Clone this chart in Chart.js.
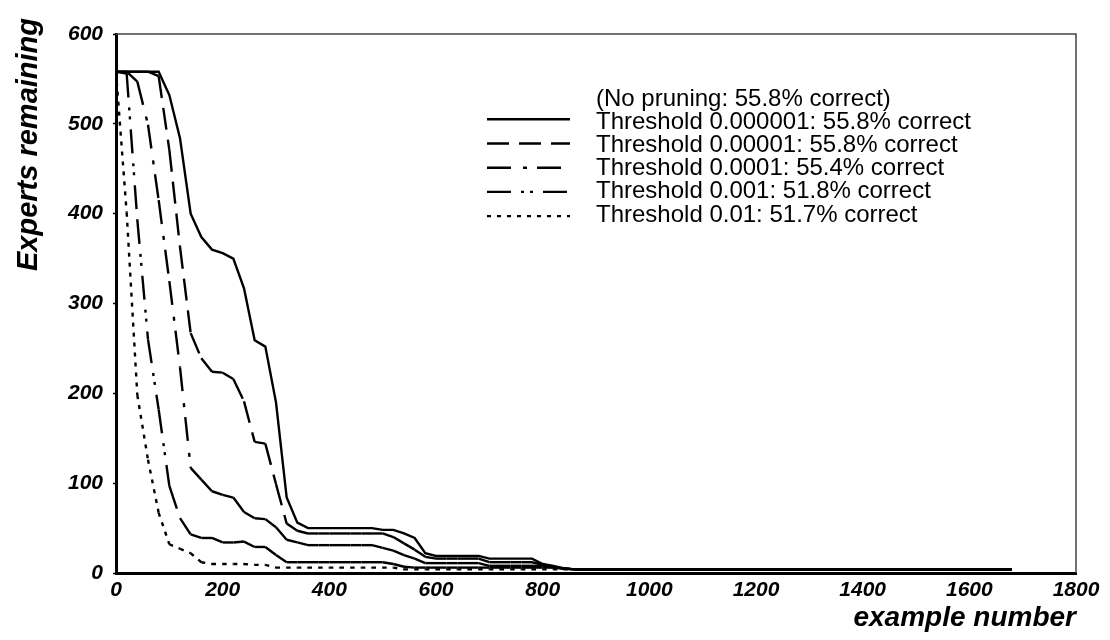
<!DOCTYPE html>
<html>
<head>
<meta charset="utf-8">
<script src="https://cdn.jsdelivr.net/npm/chart.js@4.4.1/dist/chart.umd.min.js"></script>
<style>
  html, body { margin: 0; padding: 0; background: #fff; }
  #wrap { width: 1110px; height: 640px; }
</style>
</head>
<body>
<div id="wrap"><canvas id="experts" width="1110" height="640"></canvas></div>
<script>
// example number, one reading every 20 examples
const examples = [
  0, 20, 40, 60, 80, 100, 120, 140, 160, 180,
  200, 220, 240, 260, 280, 300, 320, 340, 360, 380,
  400, 420, 440, 460, 480, 500, 520, 540, 560, 580,
  600, 620, 640, 660, 680, 700, 720, 740, 760, 780,
  800, 820, 840, 860, 880, 900, 920, 940, 960, 980,
  1000, 1020, 1040, 1060, 1080, 1100, 1120, 1140, 1160, 1180,
  1200, 1220, 1240, 1260, 1280, 1300, 1320, 1340, 1360, 1380,
  1400, 1420, 1440, 1460, 1480, 1500, 1520, 1540, 1560, 1580,
  1600, 1620, 1640, 1660, 1680
];

// experts remaining, per threshold
const thr000001 = [
  558, 558, 558, 558, 558, 532, 484, 400, 374, 360,
  356, 350, 317, 259, 252, 190, 84, 56, 50, 50,
  50, 50, 50, 50, 50, 48, 48, 44, 39, 22,
  19, 19, 19, 19, 19, 16, 16, 16, 16, 16,
  10, 8, 5, 4, 4, 4, 4, 4, 4, 4,
  4, 4, 4, 4, 4, 4, 4, 4, 4, 4,
  4, 4, 4, 4, 4, 4, 4, 4, 4, 4,
  4, 4, 4, 4, 4, 4, 4, 4, 4, 4,
  4, 4, 4, 4, 4
];
const thr00001 = [
  558, 558, 558, 558, 553, 471, 363, 267, 239, 224,
  223, 216, 191, 146, 144, 99, 55, 47, 44, 44,
  44, 44, 44, 44, 44, 44, 40, 33, 26, 18,
  16, 16, 16, 16, 16, 12, 12, 12, 12, 12,
  9, 7, 5, 4, 4, 4, 4, 4, 4, 4,
  4, 4, 4, 4, 4, 4, 4, 4, 4, 4,
  4, 4, 4, 4, 4, 4, 4, 4, 4, 4,
  4, 4, 4, 4, 4, 4, 4, 4, 4, 4,
  4, 4, 4, 4, 4
];
const thr0001 = [
  558, 558, 547, 499, 415, 325, 229, 117, 104, 91,
  87, 84, 68, 61, 60, 51, 37, 34, 31, 31,
  31, 31, 31, 31, 31, 28, 25, 20, 16, 11,
  11, 11, 11, 11, 11, 8, 8, 8, 8, 8,
  8, 6, 5, 4, 4, 4, 4, 4, 4, 4,
  4, 4, 4, 4, 4, 4, 4, 4, 4, 4,
  4, 4, 4, 4, 4, 4, 4, 4, 4, 4,
  4, 4, 4, 4, 4, 4, 4, 4, 4, 4,
  4, 4, 4, 4, 4
];
const thr001 = [
  558, 556, 393, 260, 182, 97, 61, 43, 39, 39,
  34, 34, 35, 29, 29, 20, 12, 12, 12, 12,
  12, 12, 12, 12, 12, 12, 10, 7, 6, 6,
  6, 6, 6, 6, 6, 6, 6, 6, 6, 6,
  6, 6, 5, 4, 4, 4, 4, 4, 4, 4,
  4, 4, 4, 4, 4, 4, 4, 4, 4, 4,
  4, 4, 4, 4, 4, 4, 4, 4, 4, 4,
  4, 4, 4, 4, 4, 4, 4, 4, 4, 4,
  4, 4, 4, 4, 4
];
const thr01 = [
  558, 401, 198, 126, 67, 32, 27, 22, 12, 10,
  10, 10, 10, 9, 9, 6, 6, 6, 6, 6,
  6, 6, 6, 6, 6, 6, 6, 4, 4, 4,
  4, 4, 4, 4, 4, 4, 4, 4, 4, 4,
  4, 4, 4, 4, 4, 4, 4, 4, 4, 4,
  4, 4, 4, 4, 4, 4, 4, 4, 4, 4,
  4, 4, 4, 4, 4, 4, 4, 4, 4, 4,
  4, 4, 4, 4, 4, 4, 4, 4, 4, 4,
  4, 4, 4, 4, 4
];

const seriesLabels = [
  'Threshold 0.000001: 55.8% correct',
  'Threshold 0.00001: 55.8% correct',
  'Threshold 0.0001: 55.4% correct',
  'Threshold 0.001: 51.8% correct',
  'Threshold 0.01: 51.7% correct'
];
const legendHeader = '(No pruning: 55.8% correct)';
const xTicks = [0, 200, 400, 600, 800, 1000, 1200, 1400, 1600, 1800];
const yTicks = [0, 100, 200, 300, 400, 500, 600];
const xTitle = 'example number';
const yTitle = 'Experts remaining';

const seriesValues = [thr000001, thr00001, thr0001, thr001, thr01];
const dashes = [
  [],
  [22, 10],
  [24, 12, 4, 10],
  [24, 10, 3, 6, 3, 10],
  [4, 6]
];

const tickFont = { family: '"Liberation Sans", Arial, sans-serif', size: 21, weight: 'bold', style: 'italic' };

// the old plotter restarts the dash pattern on every segment
const datasets = seriesValues.map( function ( vals, i ) {
  const ds = {
    label: seriesLabels[ i ],
    data: examples.map( function ( x, j ) {
      return { x: x, y: vals[ j ] };
    } ),
    borderColor: '#000',
    borderWidth: 2.4,
    borderDash: dashes[ i ],
    pointRadius: 0,
    tension: 0,
    fill: false
  };
  if ( dashes[ i ].length ) {
    ds.segment = {
      borderDashOffset: function ( ctx ) {
        return ctx.p0DataIndex * 1e-7;
      }
    };
  }
  return ds;
} );

const paperPlugin = {
  id: 'paper',
  beforeDatasetsDraw: function ( chart ) {
    const ctx = chart.ctx;
    const a = chart.chartArea;
    ctx.save();
    ctx.strokeStyle = '#444';
    ctx.lineWidth = 1.5;
    ctx.beginPath();
    ctx.moveTo( a.left, a.top );
    ctx.lineTo( a.right, a.top );
    ctx.lineTo( a.right, a.bottom );
    ctx.stroke();
    ctx.restore();
  },
  afterDraw: function ( chart ) {
    const ctx = chart.ctx;
    ctx.save();
    ctx.fillStyle = '#000';
    ctx.textBaseline = 'alphabetic';

    // axis titles
    ctx.font = 'italic bold 28px "Liberation Sans", Arial, sans-serif';
    ctx.textAlign = 'right';
    ctx.fillText( xTitle, 1076, 626 );
    ctx.save();
    ctx.translate( 37, 271 );
    ctx.rotate( -Math.PI / 2 );
    ctx.textAlign = 'left';
    ctx.font = 'italic bold 29px "Liberation Sans", Arial, sans-serif';
    ctx.fillText( yTitle, 0, 0 );
    ctx.restore();

    // legend
    ctx.font = '24px "Liberation Sans", Arial, sans-serif';
    ctx.textAlign = 'left';
    ctx.fillText( legendHeader, 596, 105.6 );
    ctx.strokeStyle = '#000';
    ctx.lineWidth = 2.4;
    chart.data.datasets.forEach( function ( ds, i ) {
      const sy = 119.3 + i * 24.2;
      ctx.setLineDash( ds.borderDash );
      ctx.beginPath();
      ctx.moveTo( 487, sy );
      ctx.lineTo( 570, sy );
      ctx.stroke();
      ctx.fillText( ds.label, 596, 128.8 + i * 23.2 );
    } );
    ctx.restore();
  }
};

new Chart( document.getElementById( 'experts' ).getContext( '2d' ), {
  type: 'line',
  data: { datasets: datasets },
  options: {
    responsive: false,
    animation: false,
    layout: { padding: { left: 0, top: 34, right: 34, bottom: 0 } },
    plugins: {
      legend: { display: false },
      tooltip: { enabled: false }
    },
    scales: {
      x: {
        type: 'linear',
        min: 0,
        max: 1800,
        afterBuildTicks: function ( scale ) {
          scale.ticks = xTicks.map( function ( v ) { return { value: v }; } );
        },
        afterFit: function ( scale ) {
          scale.height = 67;
        },
        grid: { drawOnChartArea: false, drawTicks: false },
        border: { display: true, color: '#000', width: 3 },
        ticks: {
          color: '#000', font: tickFont, padding: 5, maxRotation: 0, autoSkip: false,
          callback: function ( v ) { return String( v ); }
        }
      },
      y: {
        type: 'linear',
        min: 0,
        max: 600,
        afterBuildTicks: function ( scale ) {
          scale.ticks = yTicks.map( function ( v ) { return { value: v }; } );
        },
        afterFit: function ( scale ) {
          scale.width = 116;
        },
        grid: { drawOnChartArea: false, drawTicks: true, tickLength: 3, color: '#000', tickWidth: 1.5 },
        border: { display: true, color: '#000', width: 3 },
        ticks: {
          color: '#000', font: tickFont, padding: 10, autoSkip: false,
          callback: function ( v ) { return String( v ); }
        }
      }
    }
  },
  plugins: [ paperPlugin ]
} );
</script>
</body>
</html>
